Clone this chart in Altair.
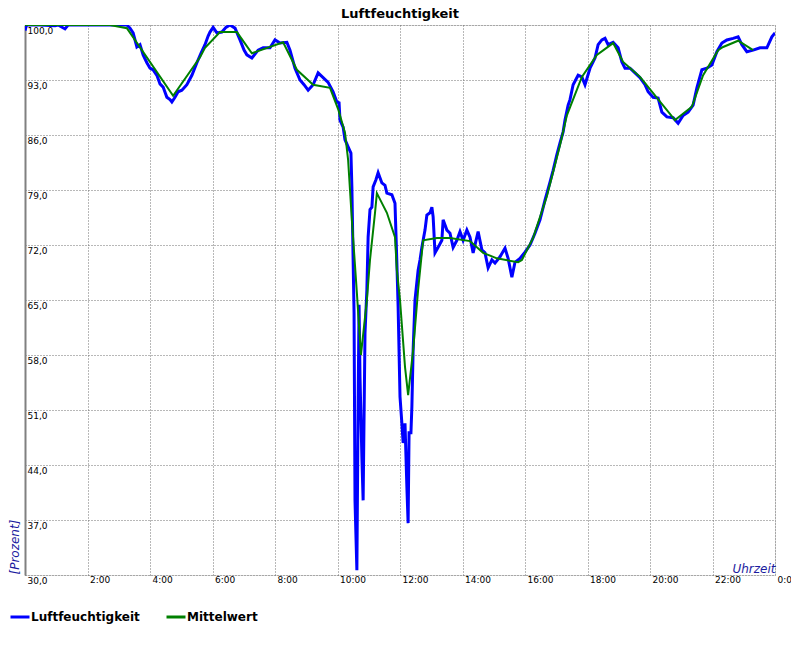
import altair as alt
import pandas as pd

# Luftfeuchtigkeit (raw measurement), time in hours since 0:00
blue_hours = [0.00, 0.05, 0.15, 0.48, 0.96, 1.06, 1.28, 1.38, 2.08, 2.72, 3.26, 3.36, 3.46, 3.58, 3.68, 3.78, 3.90, 4.00,
              4.10, 4.22, 4.32, 4.42, 4.54, 4.64, 4.70, 4.80, 4.90, 5.02, 5.18, 5.34, 5.50, 5.63, 5.76, 5.86,
              5.92, 6.02, 6.14, 6.30, 6.43, 6.56, 6.72, 6.88, 7.01, 7.10, 7.26, 7.46, 7.62, 7.84, 8.00, 8.16,
              8.38, 8.48, 8.64, 8.80, 8.93, 9.06, 9.22, 9.38, 9.54, 9.70, 9.86, 9.98, 10.05, 10.08, 10.18,
              10.24, 10.34, 10.43, 10.46, 10.50, 10.53, 10.56, 10.62, 10.66, 10.69, 10.72, 10.78, 10.82, 10.88,
              10.94, 10.98, 11.04, 11.10, 11.14, 11.23, 11.30, 11.42, 11.52, 11.58, 11.74, 11.84, 11.87, 11.90,
              11.94, 12.00, 12.06, 12.10, 12.16, 12.22, 12.26, 12.29, 12.35, 12.38, 12.42, 12.48, 12.58, 12.64,
              12.70, 12.80, 12.86, 12.96, 13.02, 13.06, 13.12, 13.22, 13.34, 13.38, 13.50, 13.60, 13.70, 13.82,
              13.92, 14.02, 14.14, 14.24, 14.34, 14.50, 14.62, 14.72, 14.82, 14.94, 15.04, 15.20, 15.36, 15.46,
              15.58, 15.68, 15.84, 16.00, 16.16, 16.32, 16.48, 16.64, 16.80, 16.90, 17.02, 17.12, 17.22, 17.28,
              17.38, 17.44, 17.54, 17.70, 17.82, 17.92, 18.08, 18.24, 18.34, 18.46, 18.56, 18.66, 18.82, 18.98,
              19.10, 19.20, 19.36, 19.52, 19.68, 19.84, 19.94, 20.10, 20.26, 20.38, 20.54, 20.74, 20.90, 21.06,
              21.22, 21.38, 21.50, 21.66, 21.82, 21.98, 22.14, 22.30, 22.46, 22.66, 22.82, 22.94, 23.10, 23.30,
              23.52, 23.74, 23.90, 24.00]
blue_values = [99.3, 100.0, 100.0, 100.0, 99.9, 100.0, 99.5, 100.0, 100.0, 100.0, 100.0, 99.6, 99.0, 97.2, 97.5, 96.2, 95.2, 94.5,
               94.3, 93.6, 92.5, 92.1, 90.8, 90.5, 90.2, 90.8, 91.5, 91.7, 92.4, 93.6, 95.2, 96.4, 97.5, 98.6,
               99.1, 99.7, 99.0, 99.1, 99.7, 100.0, 99.6, 98.1, 96.8, 96.2, 95.8, 96.8, 97.1, 97.1, 98.1, 97.7,
               97.8, 96.8, 94.5, 93.0, 92.4, 91.7, 92.4, 93.9, 93.3, 92.7, 91.5, 90.2, 90.1, 87.9, 87.0,
               85.4, 84.5, 83.7, 79.4, 70.1, 63.3, 39.5, 30.6, 51.9, 64.4, 55.2, 45.0, 39.5, 60.8,
               66.3, 73.0, 76.5, 76.8, 79.4, 80.3, 81.2, 79.9, 79.6, 78.6, 78.4, 77.3, 73.5, 69.7,
               64.1, 52.7, 49.3, 46.8, 49.3, 41.2, 36.6, 48.1, 48.1, 51.4, 58.6, 65.0, 68.8, 70.1,
               71.7, 73.9, 75.8, 76.1, 76.8, 75.6, 71.0, 71.7, 72.6, 75.2, 73.9, 73.5, 71.7, 72.6,
               73.7, 72.6, 73.9, 73.0, 71.0, 73.7, 71.4, 71.0, 69.1, 70.1, 69.7, 70.5, 71.6, 70.3,
               67.9, 69.8, 70.3, 71.1, 72.0, 73.5, 75.2, 77.7, 80.0, 81.5, 83.5, 85.0, 86.4, 87.9,
               89.8, 90.5, 92.4, 93.6, 93.4, 92.4, 94.5, 95.8, 97.5, 98.1, 98.3, 97.5, 97.8, 97.1,
               95.3, 94.5, 94.5, 93.9, 93.3, 92.4, 91.5, 90.8, 90.7, 88.9, 88.3, 88.2, 87.5, 88.5,
               88.9, 89.8, 92.0, 94.3, 94.5, 94.9, 96.6, 97.7, 98.1, 98.3, 98.5, 97.5, 96.6, 96.8,
               97.1, 97.1, 98.5, 99.0]

# Mittelwert (smoothed mean)
green_hours = [0.00, 2.72, 3.26, 4.74, 5.60, 5.76, 6.24, 6.78, 7.26, 8.26, 8.70, 9.22, 9.76, 10.02, 10.24,
               10.34, 10.46, 10.62, 10.75, 10.94, 11.04, 11.20, 11.26, 11.58, 11.84, 11.90, 12.00, 12.16,
               12.26, 12.42, 12.58, 12.74, 13.18, 13.60, 14.24, 14.66, 15.10, 15.78, 15.90, 16.26, 16.70,
               17.12, 17.34, 17.82, 18.30, 18.82, 19.14, 19.68, 20.80, 21.34, 21.70, 22.18, 22.34, 22.82, 23.30]
green_values = [100.0, 100.0, 99.6, 91.0, 95.9, 97.1, 99.1, 99.1, 96.4, 97.8, 94.3, 92.4, 92.0, 89.3, 86.3,
                82.8, 75.2, 65.9, 58.0, 65.0, 70.1, 76.1, 78.6, 76.1, 73.0, 68.8, 65.0, 56.5,
                52.9, 58.6, 66.3, 72.6, 72.9, 72.9, 72.5, 71.0, 70.3, 69.8, 70.1, 72.9, 78.2,
                84.7, 88.5, 93.4, 96.2, 97.7, 95.3, 93.4, 87.9, 89.6, 93.6, 96.8, 97.2, 98.0, 96.8]

series_names = ["Luftfeuchtigkeit", "Mittelwert"]
series_colors = ["#0000ff", "#008000"]
y_ticks = [30, 37, 44, 51, 58, 65, 72, 79, 86, 93, 100]
x_ticks = [0, 2, 4, 6, 8, 10, 12, 14, 16, 18, 20, 22, 24]

df_blue = pd.DataFrame({"Stunde": blue_hours, "Wert": blue_values, "Reihe": series_names[0]})
df_green = pd.DataFrame({"Stunde": green_hours, "Wert": green_values, "Reihe": series_names[1]})

FONT = "DejaVu Sans"
TITLE_BLUE = "#1c1ca0"
GRID = "#707070"

x_enc = alt.X(
    "Stunde:Q",
    scale=alt.Scale(domain=[0, 24], nice=False, zero=False),
    axis=alt.Axis(
        values=x_ticks,
        grid=True, gridColor=GRID, gridDash=[1, 2], gridWidth=1,
        domain=False, ticks=False, tickSize=0,
        labelAlign="left", labelBaseline="top", labelPadding=0, labelOffset=2,
        labelFont=FONT, labelFontSize=9, labelColor="#000000",
        labelExpr="datum.value == 0 ? '' : (datum.value % 24) + ':00'",
        labelOverlap=False, labelBound=False, labelFlush=False,
        title="Uhrzeit", titleFont=FONT, titleFontSize=12, titleFontStyle="italic",
        titleFontWeight="normal", titleColor=TITLE_BLUE, titleAlign="right",
        titleBaseline="alphabetic", titleX=750, titleY=-3, titleAnchor="end",
    ),
)
y_enc = alt.Y(
    "Wert:Q",
    scale=alt.Scale(domain=[30, 100], nice=False, zero=False),
    axis=alt.Axis(
        values=y_ticks,
        grid=True, gridColor=GRID, gridDash=[1, 2], gridWidth=1,
        domain=True, domainColor="#808080", domainWidth=2,
        ticks=False, tickSize=0,
        labelAlign="left", labelBaseline="top", labelPadding=-2, labelOffset=1,
        labelFont=FONT, labelFontSize=9, labelColor="#000000",
        labelExpr="replace(format(datum.value, '.1f'), '.', ',')",
        labelOverlap=False, labelBound=False, labelFlush=False,
        title="[Prozent]", titleFont=FONT, titleFontSize=12, titleFontStyle="italic",
        titleFontWeight="normal", titleColor=TITLE_BLUE, titleAngle=270,
        titleAlign="left", titleBaseline="alphabetic", titleX=-7, titleY=549,
    ),
)

legend = alt.Legend(
    orient="none", legendX=-16, legendY=581, direction="horizontal", title=None,
    symbolType="stroke", symbolSize=361, symbolStrokeWidth=3,
    labelFont=FONT, labelFontSize=12, labelFontWeight="bold", labelColor="#000000",
    labelOffset=0, columnPadding=20, padding=0,
)
color_enc = alt.Color(
    "Reihe:N",
    scale=alt.Scale(domain=series_names, range=series_colors),
    sort=series_names,
    legend=legend,
)

blue_line = alt.Chart(df_blue).mark_line(strokeWidth=3, clip=True).encode(
    x=x_enc, y=y_enc, color=color_enc, order=alt.Order("Stunde:Q"),
)
green_line = alt.Chart(df_green).mark_line(strokeWidth=2, clip=True).encode(
    x=x_enc, y=y_enc, color=color_enc, order=alt.Order("Stunde:Q"),
)

chart = alt.layer(blue_line, green_line).properties(
    width=750,
    height=550,
    title=alt.TitleParams("Luftfeuchtigkeit", font=FONT, fontSize=13, fontWeight="bold",
                          color="#000000", anchor="middle", offset=4),
    autosize=alt.AutoSizeParams(type="none"),
    padding={"left": 17, "top": 17, "right": 16, "bottom": 60},
).configure_view(strokeWidth=0).configure(background="#ffffff")

chart.save("out.html", embed_options={"renderer": "svg", "actions": False})
